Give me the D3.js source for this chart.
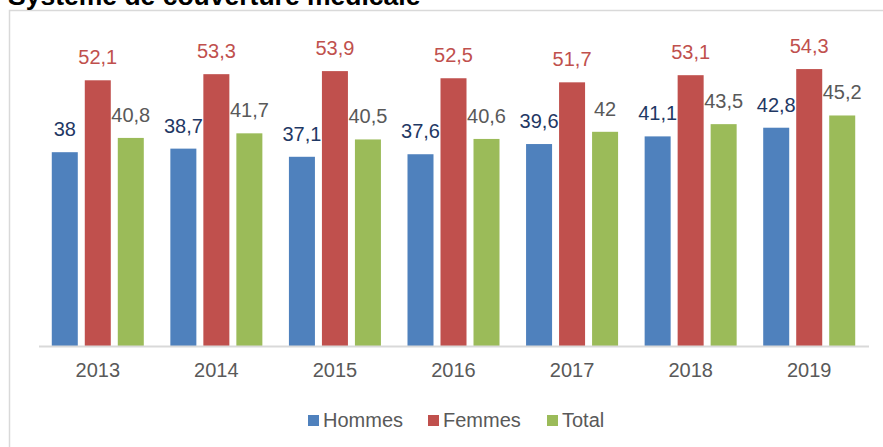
<!DOCTYPE html>
<html>
<head>
<meta charset="utf-8">
<script src="https://cdn.jsdelivr.net/npm/d3@7"></script>
<style>
  body { margin: 0; background: #fff; }
  .chart { width: 883px; height: 447px; }
  text { font-family: "Liberation Sans", Arial, sans-serif; }
</style>
</head>
<body>
<div class="chart" id="chart"></div>
<script>
// data
const years = ['2013', '2014', '2015', '2016', '2017', '2018', '2019'];
const seriesNames = ['Hommes', 'Femmes', 'Total'];
const hommes = [38, 38.7, 37.1, 37.6, 39.6, 41.1, 42.8];
const femmes = [52.1, 53.3, 53.9, 52.5, 51.7, 53.1, 54.3];
const total = [40.8, 41.7, 40.5, 40.6, 42, 43.5, 45.2];
const titleText = 'Système de couverture médicale';

const values = [hommes, femmes, total];
const barColors = ['#4F81BD', '#C0504D', '#9BBB59'];
const labelColors = ['#1F3864', '#C0504D', '#595959'];

const W = 883, H = 447;
const svg = d3.select('#chart').append('svg')
  .attr('width', W)
  .attr('height', H);

// frame
svg.append('path')
  .attr('d', `M9.5,${H} L9.5,10.5 L${W},10.5`)
  .attr('fill', 'none')
  .attr('stroke', '#d9d9d9')
  .attr('stroke-width', 1.5);

// title (cut at top like the original)
svg.append('text')
  .attr('x', 8)
  .attr('y', 5)
  .attr('font-size', 26.5)
  .attr('font-weight', 'bold')
  .attr('fill', '#000')
  .text(titleText);

const x0 = d3.scaleBand().domain(years).range([38.5, 868.5])
  .paddingInner(0.224).paddingOuter(0.112);
const x1 = d3.scaleBand().domain(seriesNames).range([0, x0.bandwidth()])
  .paddingInner(0.212);
const y = d3.scaleLinear().domain([0, 60]).range([346, 40]);

const groups = svg.selectAll('g.year')
  .data(years)
  .join('g')
  .attr('class', 'year')
  .attr('transform', d => `translate(${x0(d)},0)`);

seriesNames.forEach(function(s, k){
  groups.append('rect')
    .attr('x', x1(s))
    .attr('y', (d, i) => y(values[k][i]))
    .attr('width', x1.bandwidth())
    .attr('height', (d, i) => y(0) - y(values[k][i]))
    .attr('fill', barColors[k]);

  groups.append('text')
    .attr('x', x1(s) + x1.bandwidth() / 2)
    .attr('y', (d, i) => y(values[k][i]) - 16)
    .attr('text-anchor', 'middle')
    .attr('font-size', 20)
    .attr('fill', labelColors[k])
    .text((d, i) => String(values[k][i]).replace('.', ','));
});

// x axis
const xAxis = svg.append('g')
  .attr('transform', `translate(0,${y(0)})`)
  .call(d3.axisBottom(x0).tickSize(0).tickPadding(17));
xAxis.select('.domain').attr('stroke', '#d9d9d9').attr('stroke-width', 2);
xAxis.selectAll('text')
  .attr('font-size', 20)
  .attr('fill', '#595959')
  .attr('font-family', '"Liberation Sans", Arial, sans-serif');

// legend
const legendX = [308, 428, 547];
const legend = svg.append('g').selectAll('g')
  .data(seriesNames)
  .join('g')
  .attr('transform', (d, i) => `translate(${legendX[i]},415)`);
legend.append('rect')
  .attr('width', 11).attr('height', 11)
  .attr('fill', (d, i) => barColors[i]);
legend.append('text')
  .attr('x', 15).attr('y', 12)
  .attr('font-size', 20)
  .attr('fill', '#595959')
  .text(d => d);
</script>
</body>
</html>
